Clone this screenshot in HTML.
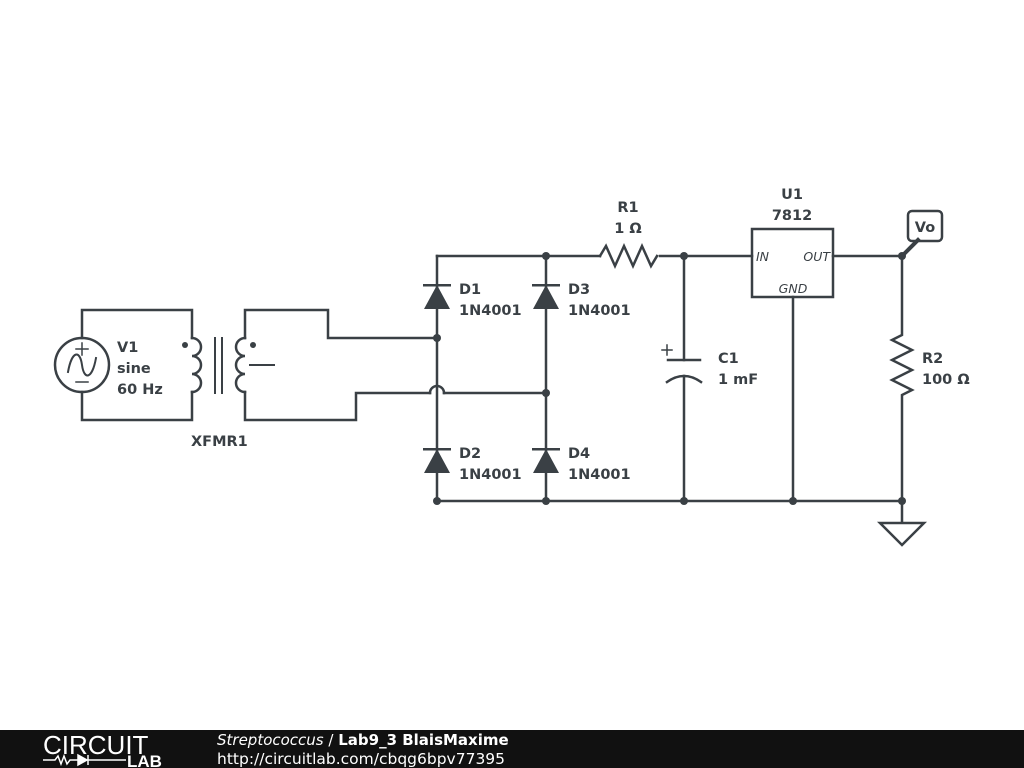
<!DOCTYPE html>
<html><head><meta charset="utf-8"><style>
body{margin:0;width:1024px;height:768px;background:#fff;overflow:hidden}
svg{display:block}
text{font-family:"DejaVu Sans",sans-serif;font-weight:bold;font-size:14.5px;fill:#3a4045}
</style></head><body>
<svg width="1024" height="768" viewBox="0 0 1024 768">
<g stroke="#3a4045" stroke-width="2.5" fill="none" stroke-linecap="square">
<polyline points="82,338 82,310 192,310 192,338"/>
<polyline points="82,392 82,420 192,420 192,392"/>
<circle cx="82" cy="365" r="27"/>
<path d="M68,372 C72,350 80,350 82,365 C84,380 92,380 96,358" stroke-width="2"/>
<path d="M82,343 v12 M76,349 h12 M76,382 h12" stroke-width="1.5"/>
<path d="M192,338 a9,9 0 0 1 0,18 a9,9 0 0 1 0,18 a9,9 0 0 1 0,18"/>
<path d="M215,338 v55 M222,338 v55" stroke-width="2"/>
<path d="M245,338 a9,9 0 0 0 0,18 a9,9 0 0 0 0,18 a9,9 0 0 0 0,18"/>
<polyline points="245,338 245,310 328,310 328,338 437,338"/>
<polyline points="245,392 245,420 356,420 356,393 430,393"/>
<path d="M444,393 H546"/>
<path d="M430,393 a7,7 0 0 1 14,0"/>
<path d="M250,365 h24" stroke-width="2"/>
<path d="M437,256 V501 M546,256 V501"/>
<path d="M437,256 H600 M660,256 H752 M833,256 H902 M437,501 H902"/>
<path d="M600,256 l6,-10 l9,20 l9,-20 l9,20 l9,-20 l9,20 l6,-10"/>
<path d="M684,256 V360 M684,376 V501"/>
<path d="M668,360 h32"/>
<path d="M667,382 q17,-12 34,0"/>
<path d="M662,350 h10 M667,345 v10" stroke-width="1.5"/>
<rect x="752" y="229" width="81" height="68"/>
<path d="M793,297 V501"/>
<path d="M902,256 V335 l-10,5 l20,10 l-20,10 l20,10 l-20,10 l20,10 l-10,5 V501"/>
<path d="M902,501 V523 M880,523 h44 l-22,22 z"/>
<path d="M902,256 l16,-16" stroke-width="4"/>
<rect x="908" y="211" width="34" height="30" rx="4"/>
</g>
<g fill="#3a4045">
<path d="M437,285 l-13,24 h26 z M546,285 l-13,24 h26 z M437,449 l-13,24 h26 z M546,449 l-13,24 h26 z"/>
<path d="M423,284 h28 v2.5 h-28 z M532,284 h28 v2.5 h-28 z M423,448 h28 v2.5 h-28 z M532,448 h28 v2.5 h-28 z"/>
<circle cx="546" cy="256" r="4"/><circle cx="684" cy="256" r="4"/><circle cx="902" cy="256" r="4"/>
<circle cx="437" cy="338" r="4"/><circle cx="546" cy="393" r="4"/>
<circle cx="437" cy="501" r="4"/><circle cx="546" cy="501" r="4"/><circle cx="684" cy="501" r="4"/><circle cx="793" cy="501" r="4"/><circle cx="902" cy="501" r="4"/>
<circle cx="185" cy="345" r="3"/><circle cx="253" cy="345" r="3"/>
</g>
<text x="117" y="352">V1</text><text x="117" y="373">sine</text><text x="117" y="394">60 Hz</text>
<text x="191" y="446">XFMR1</text>
<text x="459" y="294">D1</text><text x="459" y="315">1N4001</text>
<text x="568" y="294">D3</text><text x="568" y="315">1N4001</text>
<text x="459" y="458">D2</text><text x="459" y="479">1N4001</text>
<text x="568" y="458">D4</text><text x="568" y="479">1N4001</text>
<text x="628" y="212" text-anchor="middle">R1</text><text x="628" y="233" text-anchor="middle">1 Ω</text>
<text x="718" y="363">C1</text><text x="718" y="384">1 mF</text>
<text x="792" y="199" text-anchor="middle">U1</text><text x="792" y="220" text-anchor="middle">7812</text>
<text x="922" y="363">R2</text><text x="922" y="384">100 Ω</text>
<text x="925" y="232" text-anchor="middle">Vo</text>
<text x="756" y="261" style="font-size:12.5px;font-style:italic;font-weight:normal">IN</text>
<text x="830" y="261" text-anchor="end" style="font-size:12.5px;font-style:italic;font-weight:normal">OUT</text>
<text x="793" y="293" text-anchor="middle" style="font-size:12.5px;font-style:italic;font-weight:normal">GND</text>
<rect x="0" y="730" width="1024" height="38" fill="#111"/>
<text x="43" y="754" style="font-family:'Liberation Sans',sans-serif;font-size:26px;font-weight:normal;fill:#fff">CIRCUIT</text>
<path d="M43,760 h12 l3,-4 l3,8 l3,-8 l3,8 l3,-4 h8" stroke="#fff" stroke-width="1.5" fill="none"/>
<path d="M78,755 v10 l9,-5 z M88,755 v10" stroke="#fff" fill="#fff" stroke-width="1.5"/>
<path d="M88,760 h38" stroke="#fff" stroke-width="1.5"/>
<text x="127" y="767" style="font-family:'Liberation Sans',sans-serif;font-size:17px;fill:#fff;font-weight:bold">LAB</text>
<text x="217" y="745" style="font-size:15px;fill:#fff;font-weight:normal"><tspan font-style="italic">Streptococcus</tspan> / <tspan font-weight="bold">Lab9_3 BlaisMaxime</tspan></text>
<text x="217" y="764" style="font-size:15.5px;fill:#fff;font-weight:normal">http://circuitlab.com/cbqg6bpv77395</text>
</svg>
</body></html>
